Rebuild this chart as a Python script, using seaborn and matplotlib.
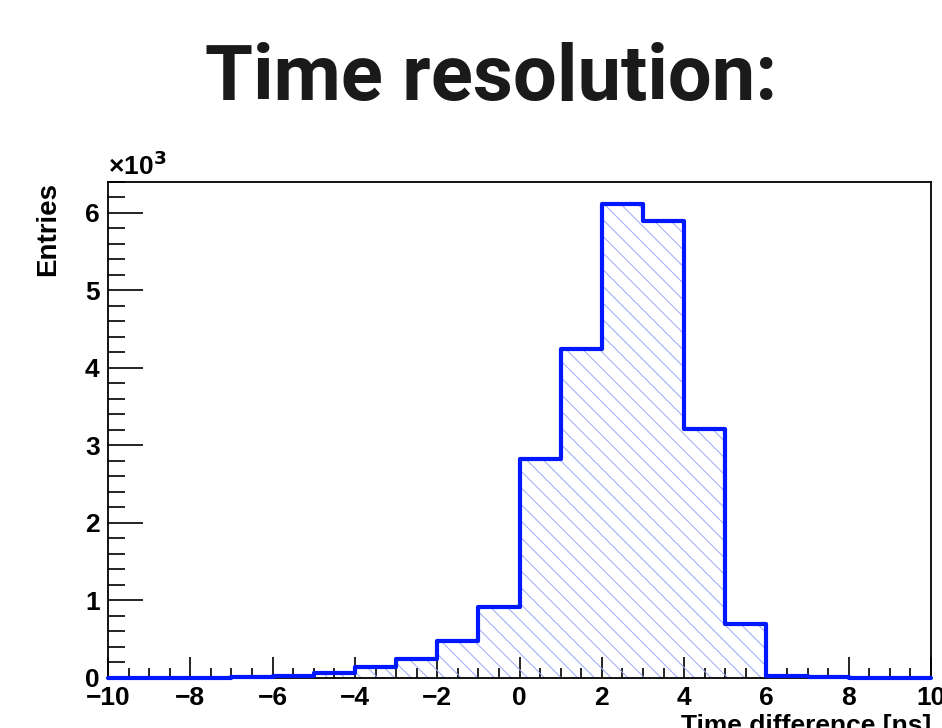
import matplotlib
matplotlib.use('Agg')
import matplotlib.pyplot as plt
import matplotlib.ticker as mticker
import numpy as np
import seaborn as sns

# histogram bins (1 ns wide) and entries per bin
bin_edges = [-10, -9, -8, -7, -6, -5, -4, -3, -2, -1, 0, 1, 2, 3, 4, 5, 6, 7, 8, 9, 10]
entries = [2, 3, 4, 8, 20, 65, 140, 240, 480, 915, 2830, 4240, 6120, 5900, 3210, 700, 25, 8, 4, 2]

title = 'Time resolution:'
x_label = 'Time difference [ns]'
y_label = 'Entries'

sns.set_theme(style='white')
plt.rcParams['font.family'] = ['Liberation Sans', 'DejaVu Sans']
plt.rcParams['font.weight'] = 'bold'
plt.rcParams['text.color'] = 'black'
plt.rcParams['axes.labelcolor'] = 'black'
plt.rcParams['hatch.linewidth'] = 0.7

centers = [(a + b) / 2 for a, b in zip(bin_edges[:-1], bin_edges[1:])]

fig = plt.figure(figsize=(9.42, 7.28), dpi=100, facecolor='white')
ax = fig.add_axes([0.1147, 0.0687, 0.8736, 0.6813])

# hatched fill
sns.histplot(x=centers, weights=entries, bins=bin_edges, element='step', fill=True,
             color='#9aa8f5', alpha=1, ax=ax)
for coll in ax.collections:
    coll.set_facecolor('none')
    coll.set_edgecolor('#9aa8f5')
    coll.set_linewidth(0)
    coll.set_hatch('\\\\')
# outline
sns.histplot(x=centers, weights=entries, bins=bin_edges, element='step', fill=False,
             color='#0018ff', linewidth=3, ax=ax)
for line in ax.lines:
    line.set_clip_on(False)
    line.set_zorder(5)

ax.set_xlim(-10, 10)
ax.set_ylim(0, 6400)
ax.xaxis.set_major_locator(mticker.MultipleLocator(2))
ax.xaxis.set_minor_locator(mticker.MultipleLocator(0.5))
ax.yaxis.set_major_locator(mticker.MultipleLocator(1000))
ax.yaxis.set_minor_locator(mticker.MultipleLocator(200))
ax.yaxis.set_major_formatter(mticker.FuncFormatter(lambda v, p: '%d' % round(v / 1000)))
ax.xaxis.set_major_formatter(mticker.FuncFormatter(lambda v, p: ('%d' % v).replace('-', '\u2212')))

ax.tick_params(axis='both', which='both', direction='in', colors='black', labelcolor='black', labelsize=19)
ax.tick_params(axis='x', which='major', length=15, width=1.2, pad=6)
ax.tick_params(axis='x', which='minor', length=7.5, width=1.2)
ax.tick_params(axis='y', which='major', length=25, width=1.2, pad=6)
ax.tick_params(axis='y', which='minor', length=12, width=1.2)
ax.xaxis.set_ticks_position('bottom')
ax.yaxis.set_ticks_position('left')
for s in ax.spines.values():
    s.set_color('black')
    s.set_linewidth(1.3)

ax.set_xlabel(x_label, fontsize=19, fontweight='bold', loc='right', labelpad=3, color='black')
ax.set_ylabel(y_label, fontsize=20, fontweight='bold', loc='top', labelpad=17, color='black')
ax.text(0.0, 1.005, '\u00d710$^{\\mathbf{3}}$', transform=ax.transAxes, fontsize=19,
        fontweight='bold', ha='left', va='bottom', color='black')

fig.text(0.521, 0.892, title, fontsize=56, fontweight='bold', ha='center', va='center',
         family='Roboto', color='#1a1a1a')

fig.savefig('out.png', dpi=100)
